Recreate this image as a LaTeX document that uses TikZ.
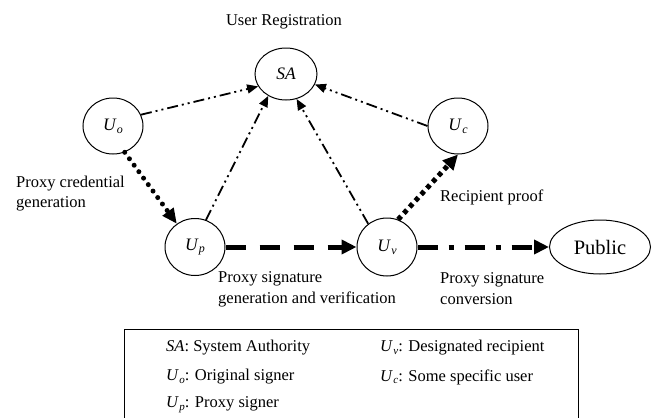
\documentclass[tikz,border=0pt]{standalone}
\usepackage{fontspec}
\setmainfont{Liberation Serif}
\usetikzlibrary{shapes.geometric,arrows.meta}

% italic U with a lowered italic index
\newcommand\usr[2][11]{\textit{U}\kern0.4pt\raisebox{-0.35ex}{\fontsize{#1}{#1}\selectfont\textit{#2}}}

\begin{document}
\begin{tikzpicture}[x=1pt,y=-1pt,
  party/.style={ellipse, draw, line width=1pt, inner sep=0pt,
    minimum width=60pt, minimum height=56pt, font=\fontsize{17.5}{20}\selectfont},
  lbl/.style={font=\fontsize{16.5}{20.5}\selectfont, align=left, inner sep=0pt},
  regline/.style={line width=1.8pt,
    dash pattern=on 11pt off 4pt on 2pt off 4pt on 2pt off 4pt,
    -{Triangle[length=11pt,width=9pt]}},
  credline/.style={line width=5pt, line cap=round,
    dash pattern=on 0pt off 8pt,
    -{Triangle[length=15pt,width=13pt]}},
  sigline/.style={line width=5pt, dash pattern=on 20pt off 14pt,
    -{Triangle[length=15pt,width=14pt]}},
  proofline/.style={line width=5pt, dash pattern=on 4.5pt off 4pt,
    -{Triangle[length=15pt,width=14pt]}},
  convline/.style={line width=5pt,
    dash pattern=on 20pt off 11pt on 5pt off 11pt,
    -{Triangle[length=15pt,width=14pt]}}
]
\useasboundingbox (0,0) rectangle (657,418);

% parties
\node[party, minimum width=62pt, minimum height=52pt] (sa) at (286,74) {\textit{SA}};
\node[party] (uo) at (113,126) {\usr[12]{o}};
\node[party] (uc) at (458,126) {\usr[12]{c}};
\node[party, minimum height=57pt] (up) at (195,247) {\usr[12]{p}};
\node[party, minimum height=58pt] (uv) at (387,247) {\usr[12]{v}};
\node[party, minimum width=101pt, minimum height=54pt, font=\fontsize{20.5}{22}\selectfont]
  (pub) at (600,247) {Public};

% registration with the system authority
\draw[regline] (uo.22) -- (sa.204);
\draw[regline] (up.68) -- (sa.231);
\draw[regline] (uv.129) -- (sa.293);
\draw[regline] (uc.west) -- (sa.340);

% protocol flows
\draw[credline] (uo.294) -- (up.128);
\draw[sigline] (up.east) -- (uv.west);
\draw[proofline] (uv.68) -- (uc.south);
\draw[convline] (uv.east) -- (pub.west);

% flow labels
\node[lbl] (tReg) at (284,22) {User Registration};
\node[lbl, anchor=west] (tCred) at (16,193.5) {Proxy credential\\generation};
\node[lbl, anchor=west] (tProof) at (440,197) {Recipient proof};
\node[lbl, anchor=west] (tSig) at (218,289.5) {Proxy signature\\generation and verification};
\node[lbl, anchor=west] (tConv) at (440,288.5) {Proxy signature\\conversion};

% legend
\coordinate (boxBL) at (124,424);
\coordinate (boxTL) at (124,329);
\coordinate (boxTR) at (578,329);
\coordinate (boxBR) at (578,424);
\draw[line width=1pt] (boxBL) -- (boxTL) -- (boxTR) -- (boxBR);
\node[lbl, anchor=west] (kSA) at (166,348) {\textit{SA}: System Authority};
\node[lbl, anchor=west] (kUo) at (166,377) {\usr{o}: Original signer};
\node[lbl, anchor=west] (kUp) at (166,405) {\usr{p}: Proxy signer};
\node[lbl, anchor=west] (kUv) at (380,348) {\usr{v}: Designated recipient};
\node[lbl, anchor=west] (kUc) at (380,377) {\usr{c}: Some specific user};
\end{tikzpicture}
\end{document}
